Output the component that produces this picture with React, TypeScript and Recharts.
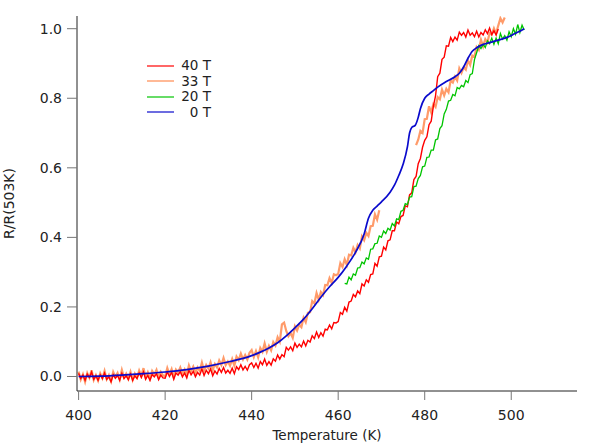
import { Legend, Line, LineChart, XAxis, YAxis } from "recharts";

// sampled every 0.5 K
const STEP = 0.5;

const red40Start = 400;
const red40 = [
  0.009, -0.006, 0.004, -0.011, 0.007, -0.003, 0.013, -0.008, 0.002, -0.011,
  0.005, -0.006, 0.01, -0.008, -0.001, -0.015, 0.005, -0.005, 0.003, -0.011,
  0.009, -0.006, 0.002, -0.009, 0.007, -0.011, 0.002, -0.006, 0.01, -0.003,
  0.013, -0.008, 0.003, -0.011, 0.006, -0.001, 0.008, -0.009, 0.004, -0.004,
  -0.005, 0.013, 0.0, 0.012, -0.008, 0.01, 0.004, 0.014, -0.001, 0.01,
  -0.004, 0.018, 0.005, 0.015, -0.001, 0.012, 0.004, 0.022, 0.003, 0.018,
  0.008, 0.022, 0.002, 0.016, 0.007, 0.023, 0.012, 0.026, 0.01, 0.018,
  0.009, 0.024, 0.008, 0.028, 0.02, 0.034, 0.019, 0.029, 0.018, 0.034,
  0.039, 0.026, 0.038, 0.024, 0.043, 0.034, 0.05, 0.032, 0.043, 0.033,
  0.051, 0.044, 0.062, 0.05, 0.063, 0.057, 0.084, 0.076, 0.085, 0.074,
  0.096, 0.084, 0.093, 0.085, 0.102, 0.088, 0.104, 0.099, 0.117, 0.109,
  0.128, 0.112, 0.126, 0.116, 0.136, 0.134, 0.148, 0.137, 0.155, 0.154,
  0.158, 0.184, 0.179, 0.199, 0.188, 0.214, 0.217, 0.236, 0.229, 0.246,
  0.238, 0.266, 0.26, 0.278, 0.271, 0.293, 0.295, 0.325, 0.317, 0.344,
  0.346, 0.372, 0.364, 0.39, 0.393, 0.419, 0.419, 0.444, 0.439, 0.46,
  0.463, 0.491, 0.488, 0.522, 0.528, 0.566, 0.575, 0.612, 0.627, 0.659,
  0.679, 0.689, 0.724, 0.734, 0.777, 0.807, 0.862, 0.872, 0.912, 0.918,
  0.951, 0.95, 0.975, 0.963, 0.976, 0.967, 0.99, 0.981, 0.989, 0.976,
  0.996, 0.981, 0.988, 0.977, 0.993, 0.976, 0.989, 0.982, 0.997, 0.986,
  1.002, 0.983, 0.994, 0.982, 0.999,
];

const orange33Start = 400;
const orange33 = [
  0.014, -0.009, 0.006, -0.015, 0.01, -0.004, 0.018, -0.01, 0.004, -0.012,
  0.009, -0.005, 0.016, -0.008, 0.004, -0.014, 0.013, -0.001, 0.01, -0.009,
  0.019, -0.002, 0.008, -0.007, 0.013, -0.01, 0.008, -0.003, 0.017, 0.002,
  0.024, -0.003, 0.012, -0.006, 0.016, 0.006, 0.019, -0.003, 0.013, 0.003,
  0.0, 0.024, 0.006, 0.021, -0.002, 0.02, 0.012, 0.026, 0.007, 0.02,
  0.004, 0.032, 0.015, 0.028, 0.01, 0.026, 0.016, 0.04, 0.017, 0.033,
  0.023, 0.041, 0.018, 0.036, 0.026, 0.046, 0.033, 0.053, 0.033, 0.043,
  0.031, 0.05, 0.031, 0.057, 0.047, 0.066, 0.049, 0.062, 0.049, 0.068,
  0.076, 0.056, 0.073, 0.055, 0.082, 0.071, 0.095, 0.071, 0.088, 0.075,
  0.099, 0.089, 0.113, 0.1, 0.15, 0.155, 0.131, 0.116, 0.125, 0.111,
  0.144, 0.132, 0.149, 0.142, 0.169, 0.156, 0.183, 0.185, 0.217, 0.21,
  0.24, 0.221, 0.243, 0.234, 0.263, 0.262, 0.283, 0.269, 0.294, 0.291,
  0.295, 0.326, 0.315, 0.337, 0.321, 0.35, 0.348, 0.37, 0.357, 0.378,
  0.368, 0.403, 0.392, 0.413, 0.404, 0.432, 0.433, 0.466, 0.451, 0.478,
  null, null, null, null, null, null, null, null, null, null,
  null, null, null, null, null, null,
  0.665, 0.681, 0.706, 0.7,
  0.74, 0.741, 0.777, 0.759, 0.783, 0.775, 0.803, 0.797, 0.825, 0.808,
  0.827, 0.817, 0.851, 0.845, 0.862, 0.851, 0.886, 0.873, 0.889, 0.882,
  0.909, 0.896, 0.923, 0.92, 0.947, 0.939, 0.968, 0.949, 0.97, 0.96,
  0.988, 0.983, 1.001, 0.986, 1.009, 1.03, 1.018, 1.032,
];

const green20Start = 461.5;
const green20 = [
  0.268,
  0.266, 0.286, 0.278, 0.295, 0.291, 0.312, 0.313, 0.329, 0.324, 0.341,
  0.337, 0.366, 0.367, 0.382, 0.383, 0.404, 0.4, 0.418, 0.411, 0.426,
  0.421, 0.44, 0.433, 0.453, 0.451, 0.475, 0.478, 0.497, 0.494, 0.516,
  0.517, 0.546, 0.547, 0.569, 0.578, 0.603, 0.605, 0.63, 0.631, 0.651,
  0.651, 0.68, 0.683, 0.713, 0.721, 0.755, 0.768, 0.792, 0.794, 0.811,
  0.807, 0.831, 0.827, 0.837, 0.833, 0.851, 0.845, 0.868, 0.871, 0.911,
  0.931, 0.951, 0.943, 0.955, 0.946, 0.965, 0.957, 0.973, 0.955, 0.973,
  0.957, 0.986, 0.97, 0.98, 0.967, 0.991, 0.977, 1.0, 0.984, 1.012,
  0.989, 1.01, 0.996,
];

const blue0T = [
  400, 405, 410, 415, 420, 425, 430, 435, 438, 440, 442, 444, 446, 448, 450,
  452, 454, 456, 458, 460, 462, 464, 466, 467, 468, 469, 470, 472, 473, 474,
  475, 476, 476.5, 477, 477.8, 478.5, 479, 480, 481, 482, 483, 485, 487, 488,
  489, 490, 491, 492, 493, 495, 497, 499, 501, 502, 503,
];
const blue0 = [
  0.0, 0.001, 0.004, 0.008, 0.013, 0.02, 0.03, 0.043, 0.052, 0.06, 0.07, 0.082,
  0.097, 0.117, 0.14, 0.165, 0.195, 0.228, 0.258, 0.285, 0.318, 0.357, 0.41,
  0.455, 0.478, 0.49, 0.502, 0.53, 0.55, 0.578, 0.61, 0.66, 0.7, 0.716, 0.722,
  0.745, 0.77, 0.8, 0.812, 0.822, 0.832, 0.848, 0.862, 0.872, 0.89, 0.915,
  0.935, 0.945, 0.952, 0.96, 0.967, 0.975, 0.987, 0.993, 1.0,
];

const xTicks = [400, 420, 440, 460, 480, 500];
const yTicks = [0, 0.2, 0.4, 0.6, 0.8, 1.0];

const RED = "#ff0000";
const ORANGE = "#ff8a50";
const GREEN = "#00c400";
const BLUE = "#0a0acc";

const legendItems = [
  { name: "40 T", color: RED },
  { name: "33 T", color: ORANGE },
  { name: "20 T", color: GREEN },
  { name: "0 T", color: BLUE },
];

const FONT = "'DejaVu Sans', Verdana, sans-serif";

const sampled = (t0: number, vals: (number | null)[]) =>
  vals.map((v, i) => ({ t: t0 + i * STEP, v }));

const redData = sampled(red40Start, red40);
const orangeData = sampled(orange33Start, orange33);
const greenData = sampled(green20Start, green20);
const blueData = blue0T.map((t, i) => ({ t, v: blue0[i] }));

function LegendBox() {
  return (
    <div style={{ fontFamily: FONT, fontSize: 13.5, color: "#222" }}>
      {legendItems.map((it) => (
        <div
          key={it.name}
          style={{
            display: "flex",
            alignItems: "center",
            justifyContent: "space-between",
            height: 15.5,
          }}
        >
          <svg width={27} height={4}>
            <line x1={0} y1={2} x2={27} y2={2} stroke={it.color} strokeWidth={1.2} />
          </svg>
          <span style={{ lineHeight: "15.5px" }}>{it.name}</span>
        </div>
      ))}
    </div>
  );
}

export default function App() {
  const tickStyle = { fill: "#222", fontSize: 14, fontFamily: FONT };
  return (
    <div style={{ position: "absolute", left: 0, top: 0, width: 615, height: 444, background: "#fff" }}>
      <LineChart
        width={615}
        height={444}
        margin={{ top: 16, right: 38, bottom: 0, left: 0 }}
        style={{ fontFamily: FONT }}
      >
        <XAxis
          type="number"
          dataKey="t"
          domain={[399.63, 515.2]}
          allowDataOverflow
          ticks={xTicks}
          interval={0}
          height={53}
          tickSize={9}
          tickMargin={10}
          tick={tickStyle}
          axisLine={{ stroke: "#222" }}
          tickLine={{ stroke: "#777" }}
          label={{
            value: "Temperature (K)",
            position: "insideBottom",
            offset: 4.5,
            style: { fill: "#222", fontSize: 13.5, fontFamily: FONT },
          }}
        />
        <YAxis
          type="number"
          domain={[-0.0417, 1.0365]}
          allowDataOverflow
          ticks={yTicks}
          interval={0}
          width={77}
          tickSize={10}
          tickMargin={5}
          tick={tickStyle}
          tickFormatter={(v: number) => v.toFixed(1)}
          axisLine={{ stroke: "#222" }}
          tickLine={{ stroke: "#777" }}
          label={{
            value: "R/R(503K)",
            angle: -90,
            position: "insideLeft",
            offset: 9.5,
            style: { fill: "#222", fontSize: 14, fontFamily: FONT, textAnchor: "middle" },
          }}
        />
        <Legend
          layout="vertical"
          align="center"
          verticalAlign="middle"
          content={() => <LegendBox />}
          wrapperStyle={{ left: 147, top: 58, width: 64, height: 62 }}
        />
        <Line
          data={orangeData}
          dataKey="v"
          name="33 T"
          type="linear"
          stroke={ORANGE}
          strokeOpacity={0.85}
          strokeWidth={2.2}
          dot={false}
          activeDot={false}
          connectNulls={false}
          isAnimationActive={false}
        />
        <Line
          data={redData}
          dataKey="v"
          name="40 T"
          type="linear"
          stroke={RED}
          strokeWidth={1.4}
          dot={false}
          activeDot={false}
          isAnimationActive={false}
        />
        <Line
          data={greenData}
          dataKey="v"
          name="20 T"
          type="linear"
          stroke={GREEN}
          strokeWidth={1.3}
          dot={false}
          activeDot={false}
          isAnimationActive={false}
        />
        <Line
          data={blueData}
          dataKey="v"
          name="0 T"
          type="monotone"
          stroke={BLUE}
          strokeWidth={1.7}
          dot={false}
          activeDot={false}
          isAnimationActive={false}
        />
      </LineChart>
    </div>
  );
}
